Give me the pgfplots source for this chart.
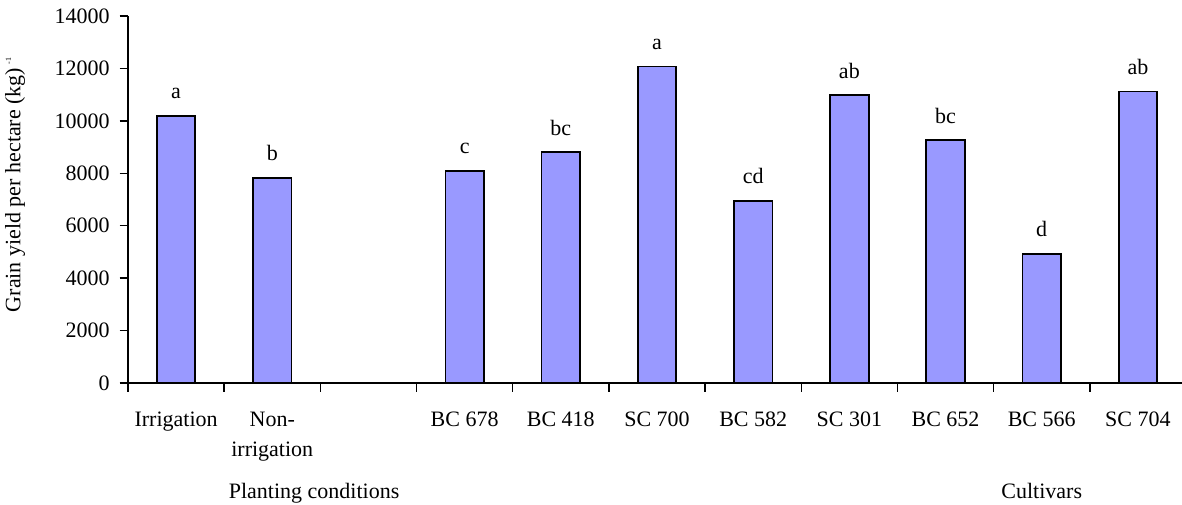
\documentclass[border=0pt]{standalone}
\usepackage{fontspec}
\setmainfont{Liberation Serif}
\usepackage{pgfplots}
\usepackage{pgfplotstable}
\pgfplotsset{compat=1.18}
\definecolor{barblue}{HTML}{9999FF}

\pgfplotstableread{
x y lab
0 10190 a
1 7830 b
3 8090 c
4 8810 bc
5 12070 a
6 6950 cd
7 10980 ab
8 9260 bc
9 4930 d
10 11120 ab
}\yielddata

\begin{document}
\begin{tikzpicture}[font=\fontsize{11}{15}\selectfont]
\path[use as bounding box] (0,0) rectangle (591pt,252pt);
\begin{axis}[
  at={(64pt,60.5pt)}, anchor=south west,
  scale only axis, width=529pt, height=183.5pt,
  xmin=-0.5, xmax=10.5, ymin=0, ymax=14000,
  axis lines*=left,
  axis line style={line width=0.75pt, black},
  ytick={0,2000,...,14000},
  xtick={0,...,10},
  xticklabels={Irrigation,{Non-\\irrigation},{},BC 678,BC 418,SC 700,BC 582,SC 301,BC 652,BC 566,SC 704},
  minor xtick={-0.5,0.5,...,9.5},
  tick align=outside,
  major tick length=4.25pt, minor tick length=4.25pt,
  tick style={black, line width=0.75pt},
  major x tick style={draw=none},
  xticklabel style={align=center, anchor=north, inner sep=0pt, yshift=-10pt},
  yticklabel style={anchor=east, inner sep=0pt, xshift=-4.75pt},
  /pgf/number format/assume math mode=true,
  /pgf/number format/1000 sep={},
  scaled y ticks=false,
  clip=false,
]
\addplot[ybar, bar width=0.4, fill=barblue, draw=black, line width=0.9pt,
  nodes near coords=\pgfplotspointmeta, point meta=explicit symbolic,
  every node near coord/.append style={anchor=base, yshift=8.5pt, inner sep=0pt, black, font=\fontsize{11}{15}\selectfont}]
  table[x=x, y=y, meta=lab]{\yielddata};
\node[rotate=90, anchor=center] at ([xshift=-56.5pt]rel axis cs:0,0.54) {Grain yield per hectare (kg)\,\raisebox{0.9ex}{\fontsize{4}{4}\selectfont -1}};
\node[anchor=base] at ([yshift=-57.5pt]axis cs:1.435,0) {Planting conditions};
\node[anchor=base] at ([yshift=-57.5pt]axis cs:9.0,0) {Cultivars};
\end{axis}
\end{tikzpicture}
\end{document}
